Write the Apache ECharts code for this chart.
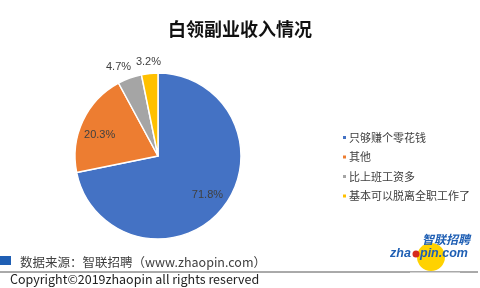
<!DOCTYPE html>
<html><head><meta charset="utf-8">
<script src="https://cdn.jsdelivr.net/npm/echarts@6/dist/echarts.min.js"></script>
<style>html,body{margin:0;padding:0;background:#fff}#c{width:480px;height:288px}</style>
</head><body><div id="c"></div>
<script>
const title = '白领副业收入情况';
const categories = ['只够赚个零花钱', '其他', '比上班工资多', '基本可以脱离全职工作了'];
const values = [71.8, 20.3, 4.7, 3.2];
const colors = ['#4472C4', '#ED7D31', '#A5A5A5', '#FFC000'];
const labelOutside = [false, false, true, true];
const labelOffsets = [[15, 11], [-18, -2], [-7, 0], [0, 0]];
const sourceText = '数据来源：智联招聘（www.zhaopin.com）';
const copyrightText = 'Copyright©2019zhaopin all rights reserved';

const font = '"Noto Sans CJK SC", "Noto Sans", sans-serif';
const labelStyle = {fontSize: 11, color: '#404040', fontFamily: 'Arial, "Liberation Sans", sans-serif'};
const fmt = p => p.value.toFixed(1) + '%';
const chart = echarts.init(document.getElementById('c'), null, {renderer: 'canvas'});
chart.setOption({
  backgroundColor: '#fff',
  animation: false,
  title: {
    text: title, left: 'center', top: 15,
    textStyle: {fontSize: 18, fontWeight: 'bold', color: '#111', fontFamily: font}
  },
  legend: {
    orient: 'vertical', left: 336, top: 127, itemGap: 8.5,
    itemWidth: 5, itemHeight: 5, icon: 'rect',
    textStyle: {fontSize: 11, color: '#404040', fontFamily: font, padding: [0, 0, 0, -3]},
    data: categories
  },
  series: [{
    type: 'pie', center: [158, 156], radius: 83, startAngle: 90, clockwise: true,
    avoidLabelOverlap: false,
    itemStyle: {borderColor: '#fff', borderWidth: 1.5},
    data: categories.map((n, i) => ({
      name: n, value: values[i],
      itemStyle: {color: colors[i]},
      label: Object.assign({show: !labelOutside[i], position: 'inside', offset: labelOffsets[i], formatter: fmt}, labelStyle)
    }))
  }, {
    type: 'pie', center: [158, 156], radius: [83, 101], startAngle: 90, clockwise: true,
    silent: true, avoidLabelOverlap: false,
    itemStyle: {color: 'rgba(0,0,0,0)', borderWidth: 0},
    data: categories.map((n, i) => ({
      name: n, value: values[i],
      label: Object.assign({show: labelOutside[i], position: 'inside', offset: labelOffsets[i], formatter: fmt}, labelStyle)
    }))
  }],
  graphic: [
    {type: 'rect', shape: {x: 0, y: 256, width: 11, height: 9}, style: {fill: '#1F5FB4'}},
    {type: 'text', x: 20, y: 262, style: {text: sourceText, fontSize: 12.5, fill: '#404040', fontFamily: font, verticalAlign: 'middle'}},
    {type: 'circle', shape: {cx: 431, cy: 257, r: 14}, style: {fill: '#FFD200'}},
    {type: 'line', shape: {x1: 0, y1: 272, x2: 478, y2: 272}, style: {stroke: '#555', lineWidth: 1}},
    {type: 'rect', shape: {x: 410, y: 272.5, width: 50, height: 16}, style: {fill: '#fff'}},
    {type: 'text', x: 10, y: 279, style: {text: copyrightText, fontSize: 12.5, fill: '#222', fontFamily: font, verticalAlign: 'middle'}},
    {type: 'text', x: 422, y: 239, style: {text: '智联招聘', fontSize: 12, fontWeight: 'bold', fontStyle: 'italic', fill: '#1F5FB4', fontFamily: font, verticalAlign: 'middle'}},
    {type: 'text', x: 390, y: 254, style: {text: 'zha', fontSize: 12.5, fontWeight: 'bold', fontStyle: 'italic', fill: '#1F5FB4', fontFamily: 'Arial, sans-serif', verticalAlign: 'middle'}},
    {type: 'circle', shape: {cx: 416, cy: 254, r: 3.5}, style: {fill: '#D52B1E'}},
    {type: 'text', x: 420, y: 254, style: {text: 'pin.com', fontSize: 12.5, fontWeight: 'bold', fontStyle: 'italic', fill: '#1F5FB4', fontFamily: 'Arial, sans-serif', verticalAlign: 'middle'}}
  ]
});
</script></body></html>
